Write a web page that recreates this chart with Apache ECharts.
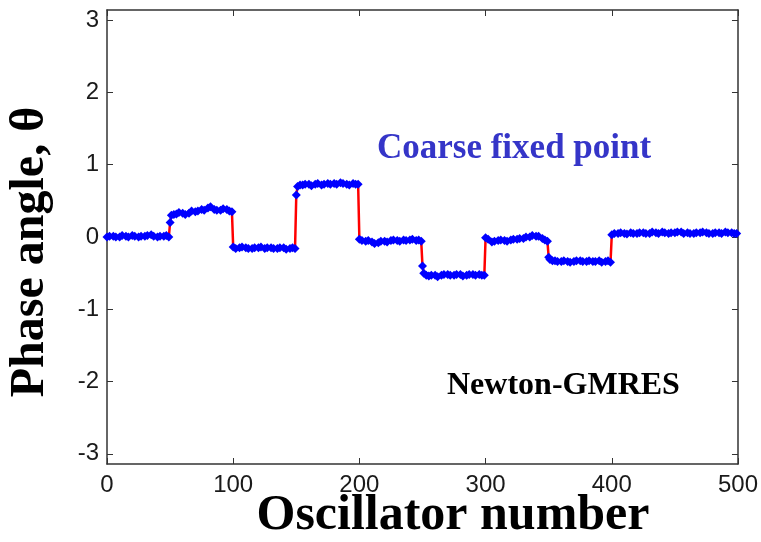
<!DOCTYPE html>
<html>
<head>
<meta charset="utf-8">
<script src="https://cdn.jsdelivr.net/npm/echarts@6/dist/echarts.min.js"></script>
<style>
  html, body { margin: 0; padding: 0; background: #fff; }
  #chart { width: 761px; height: 542px; }
</style>
</head>
<body>
<div id="chart"></div>
<script>
// oscillator index and phase, one block per plateau
var osc0 = [0, 2, 5, 7, 10, 12, 15, 17, 20, 22, 25, 27, 30, 32, 35, 37, 40, 42, 45, 47, 49];
var phi0 = [0.00, 0.01, 0.01, 0.00, 0.00, 0.02, 0.01, 0.00, 0.02, 0.01, 0.00, 0.01, 0.01, 0.02, 0.03, 0.01, 0.00, 0.01, 0.01, 0.02, 0.00];

var osc1 = [50, 51, 53, 55, 57, 60, 62, 65, 67, 70, 72, 75, 77, 80, 82, 85, 87, 90, 92, 95, 97, 99];
var phi1 = [0.20, 0.30, 0.31, 0.32, 0.34, 0.33, 0.31, 0.33, 0.36, 0.35, 0.36, 0.38, 0.37, 0.40, 0.42, 0.38, 0.37, 0.37, 0.39, 0.38, 0.36, 0.35];

var osc2 = [100, 102, 105, 107, 110, 112, 115, 117, 120, 122, 125, 127, 130, 132, 135, 137, 140, 142, 145, 147, 149];
var phi2 = [-0.14, -0.16, -0.15, -0.14, -0.15, -0.16, -0.16, -0.15, -0.15, -0.14, -0.16, -0.15, -0.15, -0.16, -0.16, -0.15, -0.15, -0.17, -0.16, -0.15, -0.16];

var osc3 = [150, 151, 153, 155, 157, 160, 162, 165, 167, 170, 172, 175, 177, 180, 182, 185, 187, 190, 192, 195, 197, 199];
var phi3 = [0.58, 0.70, 0.72, 0.72, 0.73, 0.73, 0.71, 0.73, 0.74, 0.72, 0.73, 0.74, 0.73, 0.74, 0.73, 0.75, 0.74, 0.73, 0.72, 0.74, 0.73, 0.73];

var osc4 = [200, 202, 205, 207, 210, 212, 215, 217, 220, 222, 225, 227, 230, 232, 235, 237, 240, 242, 245, 247, 249];
var phi4 = [-0.03, -0.05, -0.06, -0.05, -0.07, -0.09, -0.08, -0.06, -0.06, -0.07, -0.05, -0.04, -0.05, -0.06, -0.04, -0.05, -0.04, -0.03, -0.05, -0.04, -0.06];

var osc5 = [250, 251, 253, 255, 257, 260, 262, 265, 267, 270, 272, 275, 277, 280, 282, 285, 287, 290, 292, 295, 297, 299];
var phi5 = [-0.40, -0.50, -0.53, -0.54, -0.53, -0.53, -0.55, -0.53, -0.52, -0.52, -0.53, -0.53, -0.52, -0.52, -0.54, -0.53, -0.52, -0.52, -0.53, -0.52, -0.53, -0.53];

var osc6 = [300, 302, 305, 307, 310, 312, 315, 317, 320, 322, 325, 327, 330, 332, 335, 337, 340, 342, 345, 347, 349];
var phi6 = [-0.01, -0.03, -0.07, -0.06, -0.05, -0.04, -0.05, -0.06, -0.04, -0.03, -0.03, -0.02, -0.02, 0.00, 0.00, 0.02, 0.01, 0.01, -0.02, -0.04, -0.06];

var osc7 = [350, 351, 353, 355, 357, 360, 362, 365, 367, 370, 372, 375, 377, 380, 382, 385, 387, 390, 392, 395, 397, 399];
var phi7 = [-0.28, -0.31, -0.33, -0.33, -0.34, -0.34, -0.33, -0.34, -0.35, -0.34, -0.33, -0.33, -0.34, -0.34, -0.33, -0.34, -0.34, -0.33, -0.35, -0.34, -0.33, -0.35];

var osc8 = [400, 402, 405, 407, 410, 412, 415, 417, 420, 422, 425, 427, 430, 432, 435, 437, 440, 442, 445, 447,
            450, 452, 455, 457, 460, 462, 465, 467, 470, 472, 475, 477, 480, 482, 485, 487, 490, 492, 495, 497, 499];
var phi8 = [0.03, 0.05, 0.05, 0.06, 0.05, 0.04, 0.06, 0.05, 0.05, 0.06, 0.06, 0.05, 0.05, 0.07, 0.06, 0.05, 0.07, 0.06, 0.05, 0.06,
            0.06, 0.07, 0.07, 0.05, 0.06, 0.05, 0.05, 0.06, 0.06, 0.07, 0.06, 0.05, 0.05, 0.06, 0.06, 0.05, 0.07, 0.06, 0.06, 0.05, 0.05];

var yTicks = [-3, -2, -1, 0, 1, 2, 3];

var oscillator = [].concat(osc0, osc1, osc2, osc3, osc4, osc5, osc6, osc7, osc8);
var phase = [].concat(phi0, phi1, phi2, phi3, phi4, phi5, phi6, phi7, phi8);

var chart = echarts.init(document.getElementById('chart'));

var axisColor = '#333';
var labelFont = { color: '#1a1a1a', fontFamily: 'Liberation Sans', fontSize: 24 };

var seriesData = oscillator.map(function (x, i) { return [x, phase[i]]; });

var option = {
  backgroundColor: '#fff',
  animation: false,
  grid: { left: 107, right: 23, top: 10, bottom: 78 },
  xAxis: [
    {
      type: 'value', min: 0, max: 500, interval: 100,
      axisLine: { show: true, onZero: false, lineStyle: { color: axisColor, width: 1.5 } },
      axisTick: { show: true, inside: true, length: 6, lineStyle: { color: axisColor } },
      axisLabel: Object.assign({ margin: 9 }, labelFont),
      splitLine: { show: false }
    },
    {
      type: 'value', position: 'top', min: 0, max: 500, interval: 100,
      axisLine: { show: true, onZero: false, lineStyle: { color: axisColor, width: 1.5 } },
      axisTick: { show: true, inside: true, length: 6, lineStyle: { color: axisColor } },
      axisLabel: { show: false },
      splitLine: { show: false }
    }
  ],
  yAxis: [
    {
      type: 'value', min: -Math.PI, max: Math.PI,
      axisLine: { show: true, onZero: false, lineStyle: { color: axisColor, width: 1.5 } },
      axisTick: { show: true, inside: true, length: 6, customValues: yTicks, lineStyle: { color: axisColor } },
      axisLabel: Object.assign({ margin: 8, customValues: yTicks }, labelFont),
      splitLine: { show: false }
    },
    {
      type: 'value', position: 'right', min: -Math.PI, max: Math.PI,
      axisLine: { show: true, onZero: false, lineStyle: { color: axisColor, width: 1.5 } },
      axisTick: { show: true, inside: true, length: 6, customValues: yTicks, lineStyle: { color: axisColor } },
      axisLabel: { show: false, customValues: yTicks },
      splitLine: { show: false }
    }
  ],
  series: [
    {
      type: 'line',
      data: seriesData,
      symbol: 'diamond',
      symbolSize: 9,
      showAllSymbol: true,
      lineStyle: { color: '#ff0000', width: 2.5 },
      itemStyle: { color: '#0000ff' },
      z: 3
    }
  ],
  graphic: [
    {
      type: 'text', x: 31, y: 252, rotation: Math.PI / 2,
      style: {
        text: 'Phase angle, θ', fill: '#000',
        font: 'bold 48px "Liberation Serif"', align: 'center', verticalAlign: 'middle'
      }
    },
    {
      type: 'text', x: 453, y: 516,
      style: {
        text: 'Oscillator number', fill: '#000',
        font: 'bold 50px "Liberation Serif"', align: 'center', verticalAlign: 'middle'
      }
    },
    {
      type: 'text', x: 377, y: 149,
      style: {
        text: 'Coarse fixed point', fill: '#3535c8',
        font: 'bold 35px "Liberation Serif"', align: 'left', verticalAlign: 'middle'
      }
    },
    {
      type: 'text', x: 447, y: 386,
      style: {
        text: 'Newton-GMRES', fill: '#000',
        font: 'bold 32px "Liberation Serif"', align: 'left', verticalAlign: 'middle'
      }
    }
  ]
};

chart.setOption(option);
</script>
</body>
</html>
